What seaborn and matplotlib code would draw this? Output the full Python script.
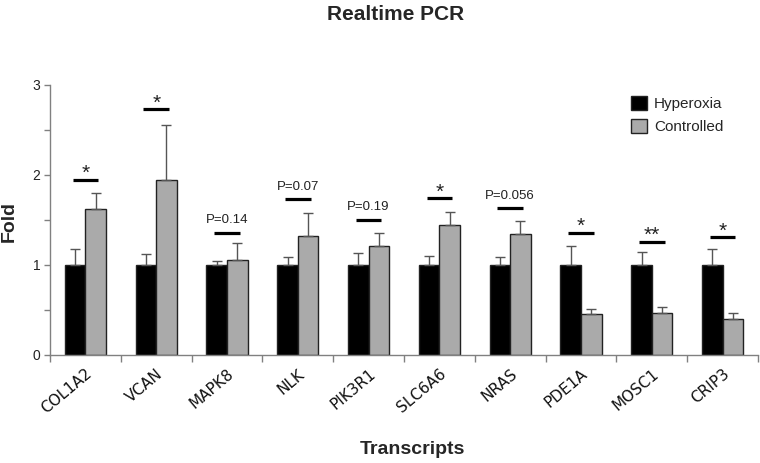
import pandas as pd
import matplotlib.pyplot as plt
import seaborn as sns
import numpy as np
from matplotlib.ticker import FixedLocator
from matplotlib.patches import Patch

# values
transcripts = ["COL1A2", "VCAN", "MAPK8", "NLK", "PIK3R1", "SLC6A6", "NRAS", "PDE1A", "MOSC1", "CRIP3"]
hyperoxia = [1.0, 1.0, 1.0, 1.0, 1.0, 1.0, 1.0, 1.0, 1.0, 1.0]
hyperoxia_err = [0.18, 0.12, 0.05, 0.09, 0.13, 0.10, 0.085, 0.21, 0.14, 0.18]
controlled = [1.62, 1.94, 1.06, 1.32, 1.21, 1.45, 1.34, 0.46, 0.47, 0.40]
controlled_err = [0.18, 0.62, 0.18, 0.26, 0.15, 0.14, 0.15, 0.05, 0.06, 0.07]
sig_labels = ["*", "*", "P=0.14", "P=0.07", "P=0.19", "*", "P=0.056", "*", "**", "*"]
sig_heights = [1.95, 2.73, 1.36, 1.73, 1.50, 1.74, 1.63, 1.36, 1.26, 1.31]

df = pd.DataFrame({
    "Transcript": transcripts * 2,
    "Group": ["Hyperoxia"] * len(transcripts) + ["Controlled"] * len(transcripts),
    "Fold": hyperoxia + controlled,
    "err": hyperoxia_err + controlled_err,
})

sns.set_style("white")
plt.rcParams["font.family"] = ["Liberation Sans", "DejaVu Sans"]

fig = plt.figure(figsize=(7.6, 4.63), dpi=100)
ax = fig.add_axes([50 / 760, 108 / 463, 708 / 760, 270 / 463])

palette = {"Hyperoxia": "#000000", "Controlled": "#aaaaaa"}
sns.barplot(data=df, x="Transcript", y="Fold", hue="Group", palette=palette,
            order=transcripts, hue_order=["Hyperoxia", "Controlled"],
            width=0.58, errorbar=None, saturation=1, edgecolor="#222222",
            linewidth=1.0, legend=False, ax=ax)

# upper-only error bars, placed on the drawn bars
bars = [p for p in ax.patches if p.get_height() > 0]
for bar, e in zip(bars, hyperoxia_err + controlled_err):
    xc = bar.get_x() + bar.get_width() / 2
    ax.errorbar(xc, bar.get_height(), yerr=[[0], [e]], fmt="none",
                ecolor="#555555", elinewidth=1.0, capsize=3.3, capthick=1.0)

# significance lines and labels
for i, (lab, h) in enumerate(zip(sig_labels, sig_heights)):
    ax.plot([i - 0.18, i + 0.18], [h, h], color="black", lw=2.3, solid_capstyle="butt")
    if lab.startswith("P"):
        ax.annotate(lab, (i, h), xytext=(0, 7), textcoords="offset points",
                    ha="center", va="baseline", fontsize=9.5, color="#222222")
    else:
        ax.annotate(lab, (i, h), xytext=(0, 0.5), textcoords="offset points",
                    ha="center", va="baseline", fontsize=15, color="#222222")

ax.set_xlim(-0.5, len(transcripts) - 0.5)
ax.set_ylim(0, 3)
ax.set_yticks([0, 1, 2, 3])
ax.set_yticklabels(["0", "1", "2", "3"], fontsize=10, color="#222222")
ax.yaxis.set_minor_locator(FixedLocator([0.5, 1.5, 2.5]))
ax.xaxis.set_minor_locator(FixedLocator(np.arange(-0.5, len(transcripts), 1.0)))
ax.tick_params(axis="y", which="both", direction="out", length=4, width=1,
               color="#808080", left=True, pad=3)
ax.tick_params(axis="x", which="major", length=0, pad=8)
ax.tick_params(axis="x", which="minor", direction="out", length=5, width=1,
               color="#808080", bottom=True)
ax.set_xticks(range(len(transcripts)))
ax.set_xticklabels(transcripts, rotation=40, ha="right", va="top",
                   rotation_mode="anchor", fontsize=11, family="DejaVu Sans",
                   color="#111111")
for t in ax.get_xticklabels():
    t.set_x(t.get_position()[0])

for side in ["top", "right"]:
    ax.spines[side].set_visible(False)
for side in ["left", "bottom"]:
    ax.spines[side].set_color("#808080")
    ax.spines[side].set_linewidth(1.0)

ax.set_xlabel("")
ax.set_ylabel("")
fig.text(412 / 760, 1 - 449 / 463, "Transcripts", ha="center", va="center",
         fontsize=14, fontweight="bold")
fig.text(9 / 760, 1 - 222 / 463, "Fold", ha="center", va="center",
         rotation=90, fontsize=14, fontweight="bold")
fig.text(396 / 760, 1 - 14 / 463, "Realtime PCR", ha="center", va="center",
         fontsize=15, fontweight="bold")

handles = [Patch(facecolor="#000000", edgecolor="#222222", label="Hyperoxia"),
           Patch(facecolor="#aaaaaa", edgecolor="#222222", label="Controlled")]
fig.legend(handles=handles, loc="upper left", bbox_to_anchor=(631 / 760, 1 - 96 / 463),
           frameon=False, fontsize=11, handlelength=1.05, handleheight=1.05,
           handletextpad=0.45, labelspacing=0.5, borderpad=0, borderaxespad=0)

fig.savefig("out.png", dpi=100)
